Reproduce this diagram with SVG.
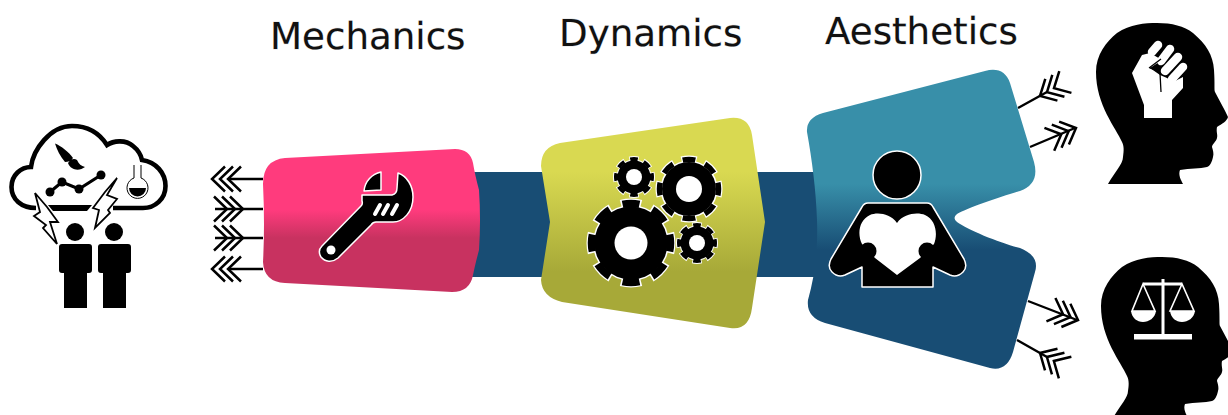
<svg xmlns="http://www.w3.org/2000/svg" width="1228" height="415" viewBox="0 0 1228 415">
<style>
.title{font-family:"DejaVu Sans",sans-serif;font-size:37.2px;fill:#111;stroke:#000;stroke-opacity:.1;stroke-width:1.4px;paint-order:stroke;text-rendering:geometricPrecision}
.shaft{fill:none;stroke:#000;stroke-width:2.4}
.chev{fill:none;stroke:#000;stroke-width:2.5}
.bar{fill:#184d74}
.k{fill:#000}
.w{fill:#fff}
.ko{fill:#000;stroke:#fff;stroke-width:1.5;stroke-linejoin:round}
.tw{fill:none;stroke:#fff;stroke-dasharray:1.3 .7;stroke-dashoffset:.65}
.tk{fill:none;stroke:#000;stroke-dasharray:1.1 .9;stroke-dashoffset:.55}
.bolt{fill:#fff;stroke:#000;stroke-width:1.8;stroke-linejoin:miter}
</style>
<defs>
<linearGradient id="gPink" gradientUnits="userSpaceOnUse" x1="0" y1="210" x2="0" y2="238"><stop offset="0" stop-color="#ff3b7d"/><stop offset="1" stop-color="#c83260"/></linearGradient>
<linearGradient id="gYellow" gradientUnits="userSpaceOnUse" x1="0" y1="172" x2="0" y2="272"><stop offset="0" stop-color="#d9d951"/><stop offset="1" stop-color="#a7a938"/></linearGradient>
<linearGradient id="gTeal" gradientUnits="userSpaceOnUse" x1="0" y1="184" x2="0" y2="250"><stop offset="0" stop-color="#388fa9"/><stop offset="1" stop-color="#184d74"/></linearGradient>
<path id="chevrons" class="chev" d="M13,-12.5L0,0L13,12.5M21,-12.5L8,0L21,12.5M29,-12.5L16,0L29,12.5"/>
<path id="headShape" d="M1108,184C1114,173 1123,164 1123,157C1124,150 1124,146 1122,142C1116,128 1096,105 1096,72C1096,55 1106,42 1117,33C1130,24 1145,23 1157,23C1172,23 1184,26 1193,33C1206,44 1213,55 1214,70C1215,85 1214,90 1215,92C1219,100 1224,108 1228,117C1227,121 1222,124 1217,127C1216,132 1218,135 1217,138C1216,142 1212,144 1212,147C1213,150 1214,154 1213,157C1212,162 1210,166 1207,167C1200,169 1190,168 1180,170C1178,175 1181,180 1183,184Z"/>
</defs>

<g id="bars">
<rect class="bar" x="470" y="172" width="90" height="105"/>
<rect class="bar" x="750" y="172" width="72" height="105"/>
</g>

<g id="connectors">
<path class="shaft" d="M263,179H228M263,209H215M263,238H215M263,269H228"/>
<use href="#chevrons" transform="translate(212,179)"/>
<use href="#chevrons" transform="translate(243,209) rotate(180)"/>
<use href="#chevrons" transform="translate(243,238) rotate(180)"/>
<use href="#chevrons" transform="translate(212,269)"/>
<path class="shaft" d="M1018,108L1047,92M1030,147L1075,128M1028,301L1077,320M1017,340L1047,357"/>
<use href="#chevrons" transform="translate(1040,96) rotate(-29)"/>
<use href="#chevrons" transform="translate(1076,128) rotate(157)"/>
<use href="#chevrons" transform="translate(1078,320) rotate(201)"/>
<use href="#chevrons" transform="translate(1040,353) rotate(30)"/>
</g>

<g id="designer">
<path d="M36,208C21,208 11.500,199 11.500,187C11.500,175 21,167 31,167C33,150 50,126 72,126C88,126 100,134 107,145C113,141 125,139 133,146C138,150 141,155 142,160C156,162 165.500,173 165.500,186C165.500,199 155,208 143,208H113" fill="none" stroke="#000" stroke-width="4.6"/>
<path class="k" d="M48,205H92L87,211H53Z"/>
<path class="k" d="M55,143.500C61,146 69,152 73,158C71,161 68,162 65,162C60,156 57,150 55,143.500ZM68,163C71,159 74,158 77,160C79,164 81,166 85,167C80,171 71,171 68,163Z"/>
<path d="M50,192L62,182L79,189L101,175" fill="none" stroke="#000" stroke-width="3.2"/>
<circle class="k" cx="50" cy="192" r="4.5"/><circle class="k" cx="62" cy="182" r="4.5"/><circle class="k" cx="79" cy="189" r="4.5"/><circle class="k" cx="101" cy="175" r="4.5"/>
<path d="M134,165V178A10.500,10.500 0 1 0 141,178V165" fill="#fff" stroke="#000" stroke-width="1"/>
<path class="k" d="M129,188H146A8.500,8.500 0 0 1 129,188Z"/>
<polygon class="bolt" points="35,193 40,212 34,216 46,225 43,228 57,244 50,222 58,222 47,207"/>
<polygon class="bolt" points="117,178 107,195 117,199 108,210 110,213 95,228 99,210 93,208 105,192"/>
<circle class="k" cx="75" cy="232" r="9"/><circle class="k" cx="114" cy="232" r="9"/>
<path class="k" d="M62,244H89Q92,244 92,247V270Q92,273 89,273H87V308H64V273H62Q59,273 59,270V247Q59,244 62,244Z"/>
<path class="k" d="M101,244H128Q131,244 131,247V270Q131,273 128,273H126V308H103V273H101Q98,273 98,270V247Q98,244 101,244Z"/>
</g>

<g id="mechanics">
<path fill="url(#gPink)" d="M263,184Q263,160 285,158L455,149Q470,149 473,163Q475,175 479,190Q481,220 479,250Q475,265 473,275Q470,292 452,292L285,283Q264,282 263,262Q265,225 263,184Z"/>
<path class="ko" d="M364,191C365,181 372,174 381,172V190ZM398,173C407,176 413,186 413,197C413,212 403,222 393,222H376Q373,222 371,225L338,258C332,263 325,262 321,257C318,252 319,249 322,246L361,206Q363,204 362,201V195H392Q397,194 397,188Z"/>
<circle class="w" cx="331" cy="250" r="4.500"/>
<path d="M375,214L380,205M383,214L388,205M392,214L397,205" stroke="#fff" stroke-width="4" stroke-linecap="round"/>
<text class="title" x="270" y="49">Mechanics</text>
</g>

<g id="dynamics">
<path fill="url(#gYellow)" d="M541,166Q541,147 560,143L730,118Q749,116 752,135L765,222L752,308Q749,331 730,328L562,302Q542,297 541,280L550,222Z"/>
<g id="gear-big">
<circle class="w" cx="631" cy="243" r="38"/>
<circle class="tw" cx="631" cy="243" r="39.5" pathLength="16" stroke-width="10"/>
<circle class="k" cx="631" cy="243" r="36.500"/>
<circle class="tk" cx="631" cy="243" r="39.5" pathLength="16" stroke-width="7.500"/>
<circle class="w" cx="631" cy="243" r="16.500"/>
</g>
<g id="gear-medium">
<circle class="w" cx="689" cy="189" r="28.500"/>
<circle class="tw" cx="689" cy="189" r="29.500" pathLength="16" stroke-width="8"/>
<circle class="k" cx="689" cy="189" r="27"/>
<circle class="tk" cx="689" cy="189" r="29.500" pathLength="16" stroke-width="5.500"/>
<circle class="w" cx="689" cy="189" r="13"/>
</g>
<g id="gear-small-top">
<circle class="w" cx="634" cy="177" r="17.500"/>
<circle class="tw" cx="634" cy="177" r="18" pathLength="16" stroke-width="6"/>
<circle class="k" cx="634" cy="177" r="16.500"/>
<circle class="tk" cx="634" cy="177" r="18" pathLength="16" stroke-width="4"/>
<circle class="w" cx="634" cy="177" r="8"/>
</g>
<g id="gear-small-bottom">
<circle class="w" cx="697" cy="243" r="17.500"/>
<circle class="tw" cx="697" cy="243" r="18" pathLength="16" stroke-width="6"/>
<circle class="k" cx="697" cy="243" r="16.500"/>
<circle class="tk" cx="697" cy="243" r="18" pathLength="16" stroke-width="4"/>
<circle class="w" cx="697" cy="243" r="8"/>
</g>
<text class="title" x="559" y="46">Dynamics</text>
</g>

<g id="aesthetics">
<path fill="url(#gTeal)" d="M807,132Q806,118 823,113L985,71Q1004,66 1010,83L1034,162Q1040,184 1020,191C1000,197 968,208 957,214Q952,218 957,222C968,230 1000,243 1020,248Q1040,256 1035,272L1013,352Q1007,372 990,368L825,323Q806,317 808,300C815,275 818,250 817,220C816,190 812,160 807,132Z"/>
<circle class="ko" cx="897" cy="175" r="24"/>
<path class="ko" d="M868,203H927Q931,203 933,207L964,259Q968,267 963,272Q957,278 950,275L933,267V287H862V267L845,275Q838,278 832,272Q827,267 831,259L862,207Q864,203 868,203Z"/>
<path class="w" d="M897,223C890,213 877,212 870,215C859,220 857,234 862,244L875,258L897,275L920,258L934,244C938,234 936,220 925,215C918,212 904,213 897,223Z"/>
<circle class="k" cx="868" cy="251" r="8.500"/><circle class="k" cx="927" cy="251" r="8.500"/>
<text class="title" x="825" y="44">Aesthetics</text>
</g>

<g id="player-fist">
<use href="#headShape"/>
<path class="w" d="M1144,118H1172V100L1183,88V77L1173,82L1167,78L1160,75L1150,68L1162,60L1150,53L1142,55L1132,73L1144,105Z"/>
<path d="M1152,52L1158,45M1161,61L1170,49M1165,71L1178,57M1172,79L1183,67" stroke="#fff" stroke-width="8.500" stroke-linecap="round"/>
<path d="M1149,68L1161,59M1150,68L1160,72M1160,73L1161,92" fill="none" stroke="#000" stroke-width="1.300"/>
</g>

<g id="player-scales">
<use href="#headShape" transform="translate(5,234)"/>
<path d="M1163,279V335M1143,284H1182" stroke="#fff" stroke-width="3" fill="none"/>
<rect class="w" x="1134" y="334" width="58" height="5.500"/>
<path d="M1143,284L1132,311H1155ZM1182,284L1170,311H1194Z" fill="none" stroke="#fff" stroke-width="1.600"/>
<path class="w" d="M1131,311H1156C1155,318 1149,322 1143,322C1137,322 1132,318 1131,311ZM1170,311H1195C1194,318 1188,322 1182,322C1176,322 1171,318 1170,311Z"/>
</g>
</svg>
